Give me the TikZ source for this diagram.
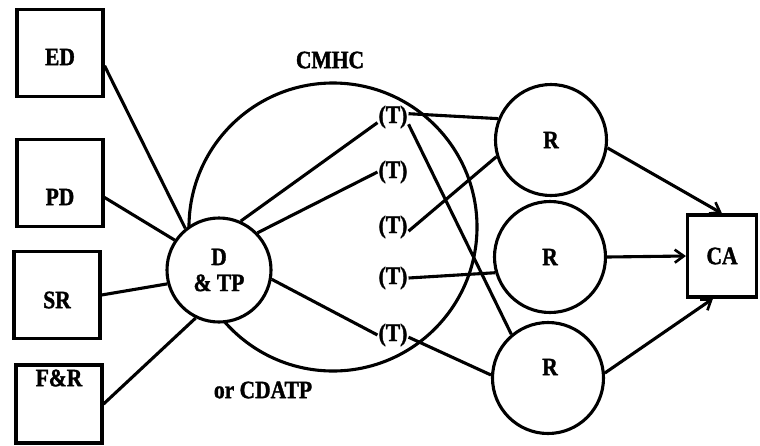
\documentclass[tikz,border=0pt]{standalone}
\usepackage{fontspec}
\setmainfont{Liberation Serif}[FakeStretch=0.86,BoldFeatures={FakeBold=1.4}]
\usetikzlibrary{arrows.meta}
\begin{document}
\begin{tikzpicture}[x=1pt,y=-1pt,
  every node/.style={font=\fontsize{25}{26}\selectfont\bfseries},
  wire/.style={line width=3.1pt},
  feed/.style={line width=3.1pt,-{Straight Barb[length=9pt,width=13pt,line width=2.6pt]}},
  srcbox/.style={draw,line width=3.1pt,minimum width=86pt,minimum height=87pt,inner sep=0pt},
  ring/.style={draw,circle,line width=3.1pt,inner sep=0pt},
  hub/.style={ring,fill=white,minimum size=104pt,align=center},
  rnode/.style={ring,fill=white,minimum size=111pt},
  tag/.style={inner sep=1pt}
]
\useasboundingbox (0,0) rectangle (760,445);

% large CMHC circle and its captions
\node[ring,minimum size=288pt] (cmhc) at (333,227) {};
\node (cmhclab) at (330,60) {CMHC};
\node (cdatp) at (263,390) {or CDATP};

% source boxes on the left
\node[srcbox] (ed) at (60,53) {};
\node[srcbox] (pd) at (60,183) {};
\node[srcbox] (sr) at (57,295) {};
\node[srcbox,minimum height=78pt] (fr) at (59,404) {};
\node (edlab) at (60,57) {ED};
\node (pdlab) at (60,197) {PD};
\node (srlab) at (57,300) {SR};
\node (frlab) at (59,378) {F\&R};

% dispatch and transmission point
\node[hub] (dtp) at (219,270) {D\\\& TP};

% transmitters
\node[tag] (t1) at (393,117) {(T)};
\node[tag] (t2) at (393,172) {(T)};
\node[tag] (t3) at (393,227) {(T)};
\node[tag] (t4) at (393,278) {(T)};
\node[tag] (t5) at (393,335) {(T)};

% receivers
\node[rnode] (r1) at (551,140) {R};
\node[rnode] (r2) at (550,257) {R};
\node[rnode] (r3) at (548,378) {};
\node (r3lab) at (550,367) {R};

% central agency
\node[srcbox,minimum width=69pt,minimum height=82pt] (ca) at (722,256) {CA};

% sources into D & TP
\draw[wire] (ed.-16) -- (dtp.129);
\draw[wire] (pd.-18) -- (dtp.146);
\draw[wire] (sr.east) -- (dtp.195);
\draw[wire] (fr.east) -- (dtp.244);

% D & TP to transmitters
\draw[wire] (dtp.66) -- (t1.200);
\draw[wire] (dtp.44) -- (t2.west);
\draw[wire] (dtp.-10) -- (t5.west);

% transmitters to receivers
\draw[wire] (t1.12) -- (r1.158);
\draw[wire] (t1.-25) -- (r3.130);
\draw[wire] (t3.-15) -- (r1.197);
\draw[wire] (t4.east) -- (r2.196);
\draw[wire] (t5.-8) -- (r3.177);

% receivers to central agency
\draw[feed] (r1.-8) -- (ca.north);
\draw[feed] (r2.east) -- (ca.west);
\draw[feed] (r3.5) -- ([xshift=-9pt]ca.south);
\end{tikzpicture}
\end{document}
